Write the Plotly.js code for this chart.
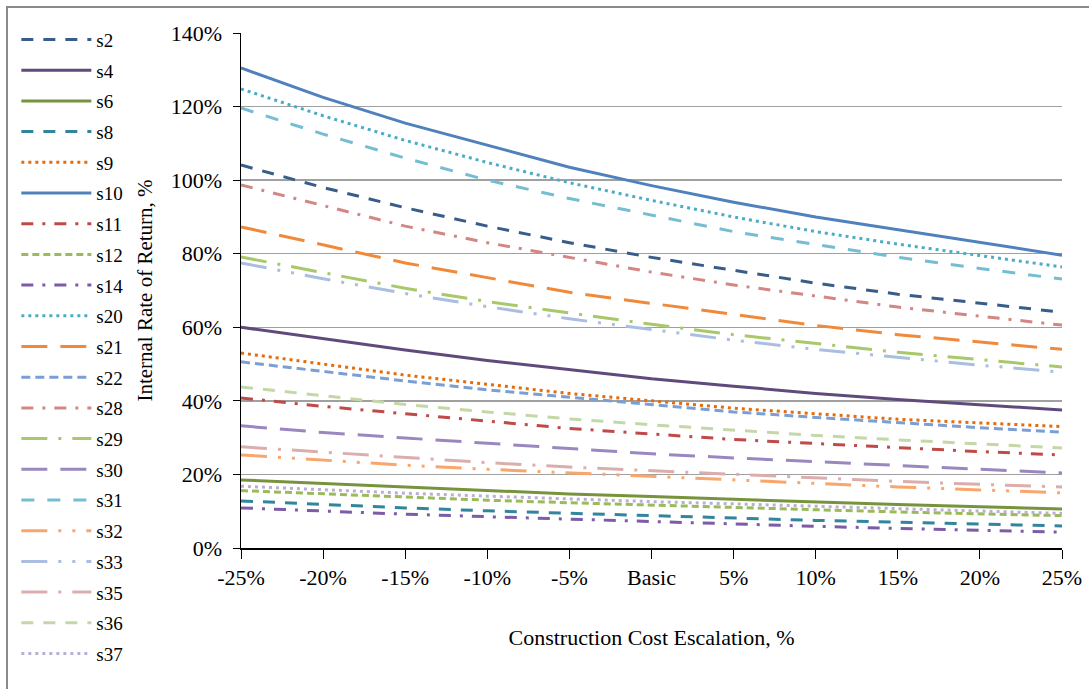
<!DOCTYPE html>
<html>
<head>
<meta charset="utf-8">
<script src="https://cdn.plot.ly/plotly-3.0.1.min.js"></script>
<style>
  html, body { margin: 0; padding: 0; background: #fff; }
  #wrap { position: relative; width: 1089px; height: 689px; overflow: hidden; }
  #chart { width: 1089px; height: 689px; }
  #frame { position: absolute; left: 6px; top: 6px; width: 1200px; height: 800px;
           border: 2px solid #8a8a8a; pointer-events: none; }
</style>
</head>
<body>
<div id="wrap">
  <div id="chart"></div>
  <div id="frame"></div>
</div>
<script>
// Categories (construction cost escalation)
const categories = ['-25%', '-20%', '-15%', '-10%', '-5%', 'Basic', '5%', '10%', '15%', '20%', '25%'];

// IRR values (%)
const s2  = [104.1, 98.0, 92.5, 87.5, 83.0, 79.0, 75.5, 72.0, 69.0, 66.5, 64.1];
const s4  = [60.0, 56.8, 53.8, 51.0, 48.5, 46.0, 44.0, 42.0, 40.4, 38.9, 37.5];
const s6  = [18.5, 17.5, 16.5, 15.5, 14.7, 14.0, 13.2, 12.5, 11.8, 11.2, 10.6];
const s8  = [12.8, 11.8, 10.9, 10.1, 9.4, 8.7, 8.1, 7.5, 7.0, 6.5, 6.0];
const s9  = [53.0, 50.0, 47.0, 44.5, 42.0, 40.0, 38.0, 36.5, 35.0, 34.0, 33.0];
const s10 = [130.5, 122.5, 115.5, 109.5, 103.5, 98.5, 94.0, 90.0, 86.5, 83.0, 79.6];
const s11 = [40.8, 38.5, 36.5, 34.5, 32.5, 31.0, 29.5, 28.4, 27.2, 26.2, 25.3];
const s12 = [15.6, 14.7, 13.8, 13.0, 12.3, 11.6, 11.0, 10.4, 9.8, 9.3, 8.8];
const s14 = [10.9, 10.0, 9.2, 8.5, 7.8, 7.2, 6.5, 5.9, 5.3, 4.8, 4.3];
const s20 = [124.8, 117.5, 110.8, 104.8, 99.3, 94.5, 90.0, 86.0, 82.6, 79.4, 76.4];
const s21 = [87.3, 82.3, 77.5, 73.5, 69.5, 66.5, 63.5, 60.5, 58.0, 56.0, 54.0];
const s22 = [50.6, 47.9, 45.4, 43.0, 41.0, 39.0, 37.0, 35.5, 34.0, 32.7, 31.5];
const s28 = [98.7, 93.0, 87.5, 83.0, 79.0, 75.0, 71.5, 68.5, 65.5, 63.0, 60.6];
const s29 = [79.1, 74.8, 70.6, 67.0, 63.8, 60.8, 58.0, 55.5, 53.2, 51.2, 49.2];
const s30 = [33.2, 31.4, 29.9, 28.4, 27.0, 25.6, 24.5, 23.4, 22.4, 21.4, 20.4];
const s31 = [119.6, 112.5, 106.0, 100.0, 95.0, 90.5, 86.0, 82.5, 79.0, 76.0, 73.1];
const s32 = [25.3, 23.9, 22.5, 21.4, 20.4, 19.4, 18.4, 17.5, 16.6, 15.8, 15.0];
const s33 = [77.5, 73.2, 69.2, 65.6, 62.3, 59.3, 56.5, 54.0, 51.8, 49.7, 47.8];
const s35 = [27.5, 26.0, 24.5, 23.2, 22.0, 21.0, 20.0, 19.0, 18.1, 17.3, 16.6];
const s36 = [43.8, 41.3, 39.0, 37.0, 35.1, 33.5, 32.0, 30.6, 29.4, 28.3, 27.2];
const s37 = [16.8, 15.8, 14.9, 14.1, 13.3, 12.6, 12.0, 11.3, 10.7, 10.0, 9.4];

const seriesNames = ['s2','s4','s6','s8','s9','s10','s11','s12','s14','s20','s21','s22','s28','s29','s30','s31','s32','s33','s35','s36','s37'];
const seriesValues = [s2,s4,s6,s8,s9,s10,s11,s12,s14,s20,s21,s22,s28,s29,s30,s31,s32,s33,s35,s36,s37];

// styles
const DASH = '12px,10px';
const SYSDASH = '7px,4px';
const DOT = '3px,4px';
const DASHDOT = '12px,9px,3px,9px';
const LONGDASH = '26px,13px';
const LDD = '26px,11px,3px,11px';
const LDDD = '26px,11px,3px,11px,3px,11px';
const styles = {
  s2:  ['#385D8A', DASH],
  s4:  ['#604A7B', 'solid'],
  s6:  ['#77933C', 'solid'],
  s8:  ['#31859C', DASH],
  s9:  ['#E46C0A', DOT],
  s10: ['#4F81BD', 'solid'],
  s11: ['#BE4B48', DASHDOT],
  s12: ['#9BBB59', SYSDASH],
  s14: ['#7D5BA6', DASHDOT],
  s20: ['#4BACC6', DOT],
  s21: ['#F08A3A', LONGDASH],
  s22: ['#7B9FD4', '9px,5px'],
  s28: ['#D38683', DASHDOT],
  s29: ['#A8C86A', LDD],
  s30: ['#9A87C0', LONGDASH],
  s31: ['#74BDD2', '13px,13px'],
  s32: ['#F9A66C', LDDD],
  s33: ['#A9BEE0', LDDD],
  s35: ['#DBAEAD', LDD],
  s36: ['#C3D8A6', DASH],
  s37: ['#BAAED8', DOT]
};

const traces = seriesNames.map((n, i) => ({
  type: 'scatter',
  mode: 'lines',
  name: n,
  legendgroup: n,
  x: categories,
  y: seriesValues[i],
  line: { color: styles[n][0], dash: styles[n][1], width: 3 },
  hoverinfo: 'skip'
}));

const FONT = 'Liberation Serif, Times New Roman, serif';

const layout = {
  width: 1089,
  height: 689,
  margin: { l: 241, r: 27, t: 33, b: 141 },
  paper_bgcolor: 'rgba(0,0,0,0)',
  plot_bgcolor: '#fff',
  font: { family: FONT, size: 20, color: '#000' },
  showlegend: true,
  legend: {
    xref: 'container', yref: 'container',
    x: 0.015, y: 0.97, xanchor: 'left', yanchor: 'top',
    font: { family: FONT, size: 19, color: '#000' },
    itemwidth: 70,
    traceorder: 'grouped',
    tracegroupgap: 3,
    maxheight: 689,
    bgcolor: 'rgba(0,0,0,0)',
    borderwidth: 0
  },
  xaxis: {
    type: 'category',
    range: [0, 10],
    showgrid: false,
    showline: true, linecolor: '#000', linewidth: 1.5,
    ticks: 'outside', ticklen: 9, tickcolor: '#000', tickwidth: 1,
    tickfont: { family: FONT, size: 22, color: '#000' },
    zeroline: false,
    title: { text: 'Construction Cost Escalation, %', font: { family: FONT, size: 22, color: '#000' }, standoff: 40 },
    fixedrange: true
  },
  yaxis: {
    range: [0, 140],
    dtick: 20,
    ticksuffix: '%',
    showgrid: true, gridcolor: '#a0a0a0', gridwidth: 1.5,
    showline: true, linecolor: '#000', linewidth: 1.5,
    ticks: 'outside', ticklen: 7, tickcolor: '#000', tickwidth: 1,
    ticklabelstandoff: 6,
    tickfont: { family: FONT, size: 22, color: '#000' },
    zeroline: false,
    title: { text: 'Internal Rate of Return, %', font: { family: FONT, size: 21, color: '#000' }, standoff: 12 },
    fixedrange: true
  }
};

Plotly.newPlot('chart', traces, layout, { displayModeBar: false, staticPlot: true });
</script>
</body>
</html>
